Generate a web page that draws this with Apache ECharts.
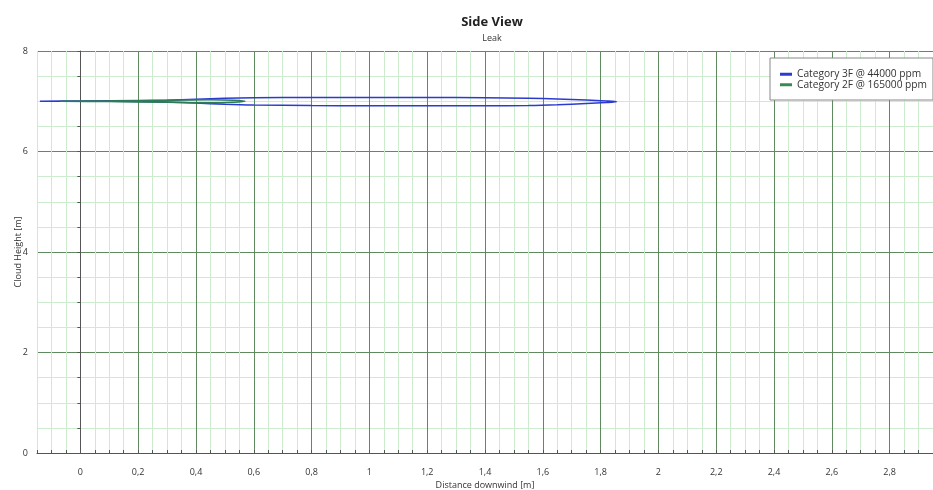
<!DOCTYPE html>
<html>
<head>
<meta charset="utf-8">
<script src="https://cdn.jsdelivr.net/npm/echarts@6/dist/echarts.min.js"></script>
<style>
  html, body { margin: 0; padding: 0; background: #fff; }
  #chart { width: 933px; height: 490px; }
</style>
</head>
<body>
<div id="chart"></div>
<script>
// Cloud outlines (side view): upper edge left→right, then lower edge right→left
const blueName = 'Category 3F @ 44000 ppm';
const blueX = [-0.14, 0.0, 0.2, 0.3, 0.4, 0.5, 0.6, 0.8, 1.0, 1.2, 1.4, 1.55, 1.65, 1.75, 1.82, 1.855,
               1.82, 1.75, 1.65, 1.55, 1.4, 1.2, 1.0, 0.8, 0.6, 0.5, 0.4, 0.3, 0.2, 0.0, -0.14];
const blueY = [7.0, 7.005, 7.01, 7.02, 7.04, 7.06, 7.07, 7.075, 7.075, 7.075, 7.07, 7.06, 7.045, 7.025, 7.005, 6.99,
               6.975, 6.955, 6.93, 6.915, 6.91, 6.91, 6.91, 6.915, 6.925, 6.94, 6.965, 6.985, 6.995, 7.0, 7.0];

const greenName = 'Category 2F @ 165000 ppm';
const greenX = [-0.07, 0.1, 0.3, 0.45, 0.53, 0.57, 0.53, 0.45, 0.3, 0.1, -0.07];
const greenY = [7.0, 7.008, 7.02, 7.03, 7.02, 7.0, 6.98, 6.968, 6.98, 6.995, 7.0];

// Axis ranges
const xMin = -0.15, xMax = 2.95, xStep = 0.05;
const yMin = 0, yMax = 8, yStep = 2;

const zip = (xs, ys) => xs.map((x, i) => [x, ys[i]]);

const FONT = '"Open Sans", "Noto Sans", sans-serif';
const MAJOR = '#5f8a5f';
const MINOR = '#cdeccd';

const chart = echarts.init(document.getElementById('chart'), null, { renderer: 'canvas' });
chart.setOption({
  animation: false,
  backgroundColor: '#ffffff',
  title: {
    text: 'Side View',
    subtext: 'Leak',
    left: 487,
    top: 11,
    textAlign: 'center',
    itemGap: 5,
    textStyle: { fontFamily: FONT, fontSize: 13, fontWeight: 'bold', color: '#222' },
    subtextStyle: { fontFamily: FONT, fontSize: 9, color: '#333' }
  },
  legend: {
    left: 770,
    top: 58,
    orient: 'vertical',
    padding: [11, 6, 10, 10],
    itemGap: 0,
    itemWidth: 12,
    itemHeight: 3,
    icon: 'rect',
    backgroundColor: '#ffffff',
    borderColor: '#888',
    borderWidth: 1,
    borderRadius: 0,
    textStyle: { fontFamily: FONT, fontSize: 10.2, color: '#333', lineHeight: 10.5 },
    data: [blueName, greenName]
  },
  grid: { left: 37, right: 0, top: 51, bottom: 37, containLabel: false, outerBoundsMode: 'none' },
  xAxis: {
    type: 'value',
    min: xMin,
    max: xMax,
    interval: xStep,
    name: 'Distance downwind [m]',
    nameLocation: 'middle',
    nameGap: 28,
    nameMoveOverlap: false,
    nameTextStyle: { fontFamily: FONT, fontSize: 9, color: '#333' },
    axisLine: { show: true, onZero: false, lineStyle: { color: '#555', width: 1 } },
    axisTick: { show: true, inside: true, length: 3, lineStyle: { color: '#555' } },
    axisLabel: {
      fontFamily: FONT, fontSize: 9, color: '#333', margin: 15,
      showMinLabel: true, showMaxLabel: true,
      formatter: v => {
        const k = v * 5;
        if (Math.abs(k - Math.round(k)) > 1e-6) return '';
        return String(Math.round(v * 10) / 10).replace('.', ',');
      }
    },
    splitLine: { show: true, lineStyle: { color: [MINOR, MINOR, MINOR, MAJOR], width: 1 } }
  },
  yAxis: {
    type: 'value',
    min: yMin,
    max: yMax,
    interval: yStep,
    name: 'Cloud Height [m]',
    nameLocation: 'middle',
    nameGap: 14,
    nameMoveOverlap: false,
    nameTextStyle: { fontFamily: FONT, fontSize: 9, color: '#333' },
    axisLine: { show: true, lineStyle: { color: '#555', width: 1 } },
    axisTick: { show: true, length: 3, lineStyle: { color: '#555' } },
    minorTick: { show: true, splitNumber: 4, length: 3, lineStyle: { color: '#555' } },
    axisLabel: { fontFamily: FONT, fontSize: 9, color: '#333', margin: 9 },
    splitLine: { show: true, lineStyle: { color: MAJOR, width: 1 } },
    minorSplitLine: { show: true, lineStyle: { color: MINOR, width: 1 } }
  },
  series: [
    {
      name: blueName,
      type: 'line',
      data: zip(blueX, blueY),
      showSymbol: false,
      smooth: 0.3,
      color: '#2b3bd0',
      lineStyle: { color: '#2b3bd0', width: 1.6 },
      z: 3
    },
    {
      name: greenName,
      type: 'line',
      data: zip(greenX, greenY),
      showSymbol: false,
      smooth: 0.3,
      color: '#3a8a55',
      lineStyle: { color: '#2f7a5a', width: 1.6 },
      z: 4
    }
  ]
});
</script>
</body>
</html>
